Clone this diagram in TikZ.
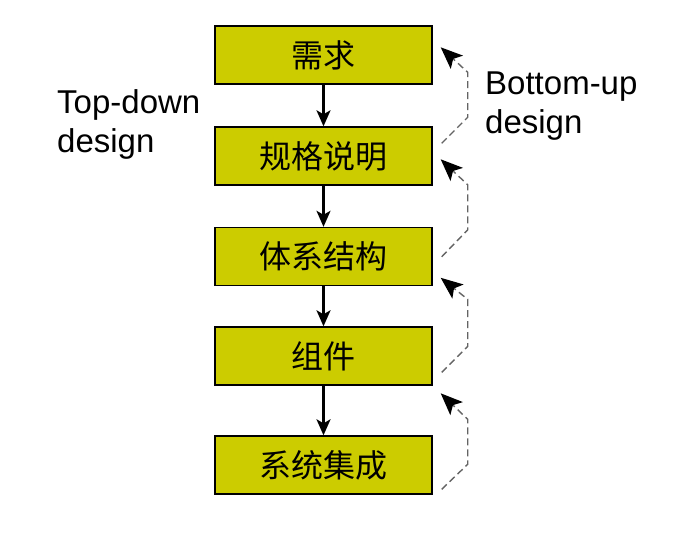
\documentclass[tikz,border=0pt]{standalone}
\usepackage{fontspec}
\setmainfont{Liberation Sans}
\newfontfamily\cjk{Noto Sans CJK SC}
\usetikzlibrary{arrows.meta,calc}
\definecolor{boxfill}{RGB}{204,204,0}
\definecolor{dashgray}{RGB}{100,100,100}
\begin{document}
\begin{tikzpicture}[x=1pt,y=-1pt,
  stagebox/.style={draw=black,line width=1.4pt,fill=boxfill,minimum width=217pt,minimum height=58pt,inner sep=0pt,font=\cjk\fontsize{32}{36}\selectfont},
  downarrow/.style={line width=2.3pt,-{Stealth[length=16pt,width=14pt,inset=4pt]}},
  uparrow/.style={dashgray,line width=1.4pt,dash pattern=on 7pt off 4pt,-{Stealth[length=22pt,width=18pt,inset=5pt,black]}},
  lbl/.style={font=\fontsize{33}{39}\selectfont,align=left,anchor=north west,inner sep=0pt}]
\useasboundingbox (0,0) rectangle (685,541);
\node[stagebox] (b1) at (323.5,55) {需求};
\node[stagebox] (b2) at (323.5,156) {规格说明};
\node[stagebox] (b3) at (323.5,256.5) {体系结构};
\node[stagebox] (b4) at (323.5,356) {组件};
\node[stagebox] (b5) at (323.5,465) {系统集成};
\draw[downarrow] (b1.south) -- (b2.north);
\draw[downarrow] (b2.south) -- (b3.north);
\draw[downarrow] (b3.south) -- (b4.north);
\draw[downarrow] (b4.south) -- (b5.north);
\coordinate (s1) at ($(b2.north east)+(9,17)$);
\coordinate (t1) at ($(b1.north east)+(8,22)$);
\coordinate (s2) at ($(b3.north east)+(9,30)$);
\coordinate (t2) at ($(b2.north east)+(8,33)$);
\coordinate (s3) at ($(b4.north east)+(9,46)$);
\coordinate (t3) at ($(b3.north east)+(8,51)$);
\coordinate (s4) at ($(b5.north east)+(9,54)$);
\coordinate (t4) at ($(b4.north east)+(8,67)$);
\draw[uparrow] (s1) -- ++(26,-26) -- ++(0,-45) -- (t1);
\draw[uparrow] (s2) -- ++(26,-27) -- ++(0,-45) -- (t2);
\draw[uparrow] (s3) -- ++(26,-26) -- ++(0,-47) -- (t3);
\draw[uparrow] (s4) -- ++(26,-25) -- ++(0,-45) -- (t4);
\node[lbl] (td) at (57,89) {Top-down\\design};
\node[lbl] (bu) at (485,72) {Bottom-up\\design};
\end{tikzpicture}
\end{document}
